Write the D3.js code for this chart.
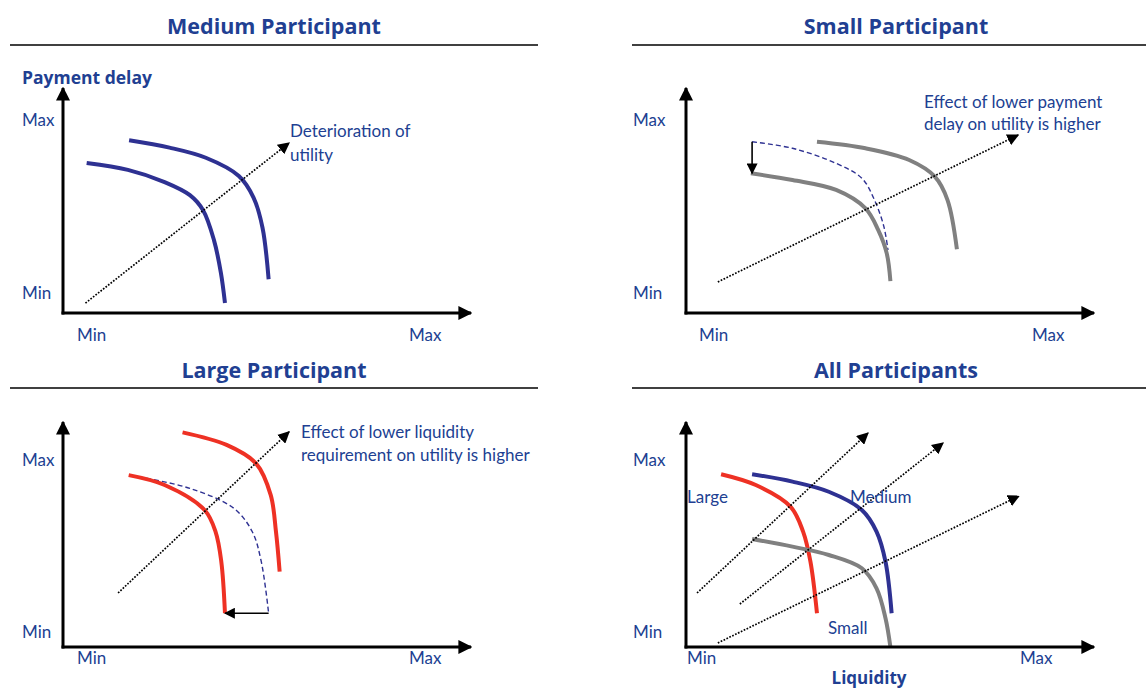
<!DOCTYPE html>
<html>
<head>
<meta charset="utf-8">
<script src="https://cdn.jsdelivr.net/npm/d3@7"></script>
<style>
  body { margin: 0; background: #fff; }
  svg { display: block; font-family: Lato, "Open Sans", sans-serif; }
</style>
</head>
<body>
<div id="chart"></div>
<script>
// curves in data units (0..100 on both axes)
const medium = [[16.2, 76.8], [26.1, 73.5], [35.0, 69.0], [43.1, 60.9], [46.7, 51.3], [48.9, 37.9], [50.4, 15.0]]
const mediumWorse = [[5.8, 66.7], [15.9, 63.6], [24.9, 58.2], [31.1, 52.4], [34.3, 45.8], [37.0, 32.4], [38.7, 17.8], [39.7, 4.4]]
const smallLow = [[15.9, 62.1], [26.1, 59.1], [36.8, 54.7], [44.0, 46.5], [47.1, 36.9], [49.2, 26.5], [50.1, 14.2]]
const smallHigh = [[32.1, 76.1], [44.0, 73.2], [54.7, 68.0], [61.0, 60.6], [64.1, 50.2], [66.4, 28.3]]
const smallDashed = [[16.2, 76.1], [26.1, 73.2], [36.8, 66.5], [43.1, 59.9], [46.2, 50.2], [48.5, 38.4], [49.5, 28.0]]
const largeLow = [[16.1, 76.4], [24.9, 72.0], [34.7, 60.9], [37.4, 51.2], [38.8, 37.9], [39.7, 15.0]]
const largeHigh = [[29.3, 95.4], [40.1, 89.8], [47.3, 81.6], [50.9, 67.6], [52.2, 51.2], [53.1, 33.5]]
const largeDashed = [[20.4, 75.0], [31.1, 70.5], [41.9, 61.6], [46.4, 51.2], [48.6, 37.9], [50.4, 15.0]]
const allLarge = [[8.6, 76.8], [17.1, 72.0], [25.6, 62.4], [28.7, 51.3], [30.5, 37.9], [32.1, 15.0]]
const allMedium = medium
const allSmall = [[16.2, 48.0], [26.1, 44.6], [35.0, 40.9], [43.1, 35.0], [46.7, 26.1], [48.9, 12.8], [50.1, 0]]

// dotted arrows [from, to]
const arrowsMedium = [[[5.5, 4.4], [55.4, 75.6]]]
const arrowsSmall = [[[7.8, 13.8], [81.4, 79.1]]]
const arrowsLarge = [[[13.5, 24.0], [55.4, 95.6]]]
const arrowsAll = [[[2.7, 24.0], [44.6, 95.1]], [[13.2, 19.1], [63.0, 90.7]], [[7.8, 1.8], [81.6, 67.1]]]

// shift arrows [from, to]
const shiftSmall = [[16.2, 76.1], [16.2, 62.1]]
const shiftLarge = [[50.4, 15.0], [39.7, 15.0]]

const BLUE = "#2e3192", RED = "#ee3124", GREY = "#808080", TEXT = "#213f92"
const BOLD_FONT = "'Open Sans', Lato, sans-serif"

const width = 1146, height = 691
const svg = d3.select("#chart").append("svg")
    .attr("width", width)
    .attr("height", height)

const x = d3.scaleLinear().domain([0, 100]).range([0, 408])
const y = d3.scaleLinear().domain([0, 100]).range([0, -225])

const defs = svg.append("defs")
function marker(id, size) {
    defs.append("marker")
        .attr("id", id)
        .attr("viewBox", "0 0 10 10")
        .attr("refX", 9).attr("refY", 5)
        .attr("markerWidth", size).attr("markerHeight", size)
        .attr("markerUnits", "userSpaceOnUse")
        .attr("orient", "auto")
        .append("path")
        .attr("d", "M0,0L10,5L0,10Z")
        .attr("fill", "#000")
}
marker("axisHead", 14)
marker("dotHead", 12)
marker("smallHead", 11)

const line = d3.line()
    .x(d => x(d[0]))
    .y(d => y(d[1]))
    .curve(d3.curveCatmullRom.alpha(0.5))

const panels = [
    {
        title: "Medium Participant", tx: 274, ty: 26, rule: [10, 538, 45], ox: 63, oy: 313,
        yMax: [22, 120], yMin: [22, 293], xMin: [77, 335], xMax: [409, 335],
        curves: [
            { pts: mediumWorse, color: BLUE },
            { pts: medium, color: BLUE }
        ],
        arrows: arrowsMedium,
        notes: [{ text: "Deterioration of", x: 290, y: 131 }, { text: "utility", x: 290, y: 155 }]
    },
    {
        title: "Small Participant", tx: 896, ty: 26, rule: [632, 1146, 45], ox: 686, oy: 313,
        yMax: [633, 120], yMin: [633, 293], xMin: [699, 335], xMax: [1032, 335],
        curves: [
            { pts: smallDashed, color: BLUE, dashed: true },
            { pts: smallLow, color: GREY },
            { pts: smallHigh, color: GREY }
        ],
        arrows: arrowsSmall,
        shift: shiftSmall,
        notes: [{ text: "Effect of lower payment", x: 924, y: 102 }, { text: "delay on utility is higher", x: 924, y: 124 }]
    },
    {
        title: "Large Participant", tx: 274, ty: 370, rule: [10, 538, 388], ox: 63, oy: 647,
        yMax: [22, 460], yMin: [22, 632], xMin: [77, 658], xMax: [409, 658],
        curves: [
            { pts: largeDashed, color: BLUE, dashed: true },
            { pts: largeLow, color: RED },
            { pts: largeHigh, color: RED }
        ],
        arrows: arrowsLarge,
        shift: shiftLarge,
        notes: [{ text: "Effect of lower liquidity", x: 301, y: 432 }, { text: "requirement on utility is higher", x: 301, y: 455 }]
    },
    {
        title: "All Participants", tx: 896, ty: 370, rule: [632, 1146, 388], ox: 686, oy: 647,
        yMax: [633, 460], yMin: [633, 632], xMin: [687, 658], xMax: [1020, 658],
        curves: [
            { pts: allLarge, color: RED },
            { pts: allMedium, color: BLUE },
            { pts: allSmall, color: GREY }
        ],
        arrows: arrowsAll,
        notes: [
            { text: "Large", x: 687, y: 497 },
            { text: "Medium", x: 850, y: 497 },
            { text: "Small", x: 828, y: 628 }
        ]
    }
]

function label(t, px, py, opts = {}) {
    svg.append("text")
        .attr("x", px).attr("y", py)
        .attr("dy", "0.35em")
        .attr("fill", TEXT)
        .attr("font-size", opts.size || 17)
        .attr("font-weight", opts.bold ? "bold" : null)
        .attr("font-family", opts.bold ? BOLD_FONT : null)
        .attr("text-anchor", opts.anchor || "start")
        .text(t)
}

panels.forEach(p => {
    // title + rule
    label(p.title, p.tx, p.ty, { size: 21.5, bold: true, anchor: "middle" })
    svg.append("line")
        .attr("x1", p.rule[0]).attr("x2", p.rule[1])
        .attr("y1", p.rule[2]).attr("y2", p.rule[2])
        .attr("stroke", "#000").attr("stroke-width", 1.5)

    const g = svg.append("g").attr("transform", `translate(${p.ox},${p.oy})`)

    // curves
    p.curves.forEach(c => {
        g.append("path")
            .attr("d", line(c.pts))
            .attr("fill", "none")
            .attr("stroke", c.color)
            .attr("stroke-width", c.dashed ? 1.4 : 4)
            .attr("stroke-dasharray", c.dashed ? "5,3" : null)
    })

    // dotted arrows
    p.arrows.forEach(a => {
        g.append("line")
            .attr("x1", x(a[0][0])).attr("y1", y(a[0][1]))
            .attr("x2", x(a[1][0])).attr("y2", y(a[1][1]))
            .attr("stroke", "#000").attr("stroke-width", 1.7)
            .attr("stroke-dasharray", "1.7,1.5")
            .attr("marker-end", "url(#dotHead)")
    })

    if (p.shift) {
        g.append("line")
            .attr("x1", x(p.shift[0][0])).attr("y1", y(p.shift[0][1]))
            .attr("x2", x(p.shift[1][0])).attr("y2", y(p.shift[1][1]))
            .attr("stroke", "#000").attr("stroke-width", 1.6)
            .attr("marker-end", "url(#smallHead)")
    }

    // axes
    g.append("line")
        .attr("x1", 0).attr("y1", 1.5).attr("x2", 0).attr("y2", y(100))
        .attr("stroke", "#000").attr("stroke-width", 3)
        .attr("marker-end", "url(#axisHead)")
    g.append("line")
        .attr("x1", -1.5).attr("y1", 0).attr("x2", x(100)).attr("y2", 0)
        .attr("stroke", "#000").attr("stroke-width", 3)
        .attr("marker-end", "url(#axisHead)")

    label("Max", p.yMax[0], p.yMax[1])
    label("Min", p.yMin[0], p.yMin[1])
    label("Min", p.xMin[0], p.xMin[1])
    label("Max", p.xMax[0], p.xMax[1])

    p.notes.forEach(n => label(n.text, n.x, n.y))
})

label("Payment delay", 22, 78, { size: 17.5, bold: true })
label("Liquidity", 869, 678, { size: 17, bold: true, anchor: "middle" })
</script>
</body>
</html>
